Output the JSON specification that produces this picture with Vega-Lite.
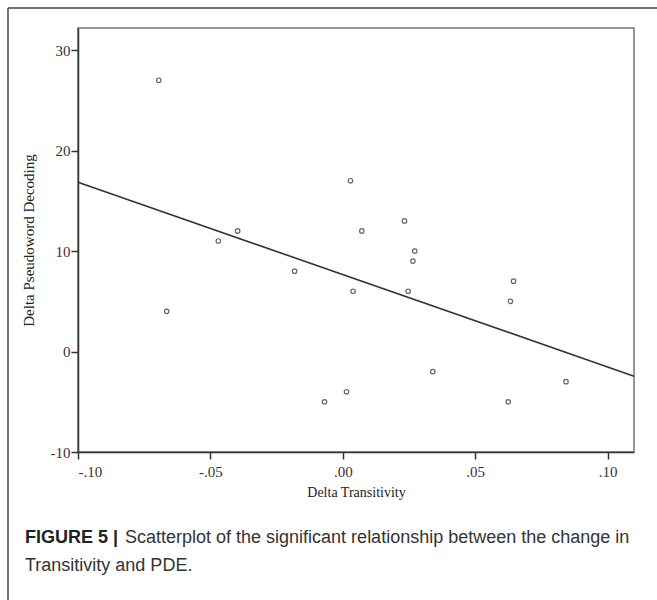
{
  "$schema": "https://vega.github.io/schema/vega-lite/v6.json",
  "width": 556,
  "height": 424,
  "autosize": {"type": "none"},
  "padding": {"left": 78, "top": 28, "right": 23, "bottom": 148},
  "background": "white",
  "config": {
    "view": {"stroke": "#777", "strokeWidth": 1.5},
    "font": "Liberation Serif"
  },
  "datasets": {
    "points": [
      {"dx": -0.0695, "dy": 27},
      {"dx": -0.0665, "dy": 4},
      {"dx": -0.047, "dy": 11},
      {"dx": -0.0397, "dy": 12},
      {"dx": -0.0182, "dy": 8},
      {"dx": -0.0069, "dy": -5},
      {"dx": 0.0014, "dy": -4},
      {"dx": 0.0029, "dy": 17},
      {"dx": 0.0039, "dy": 6},
      {"dx": 0.0072, "dy": 12},
      {"dx": 0.0233, "dy": 13},
      {"dx": 0.0272, "dy": 10},
      {"dx": 0.0265, "dy": 9},
      {"dx": 0.0247, "dy": 6},
      {"dx": 0.034, "dy": -2},
      {"dx": 0.0645, "dy": 7},
      {"dx": 0.0633, "dy": 5},
      {"dx": 0.0625, "dy": -5},
      {"dx": 0.0843, "dy": -3}
    ],
    "fit": [
      {"dx": -0.1, "dy": 16.85},
      {"dx": 0.11, "dy": -2.45}
    ]
  },
  "layer": [
    {
      "data": {"name": "points"},
      "mark": {"type": "point", "shape": "circle", "filled": false, "stroke": "#666", "strokeWidth": 1.2, "size": 20, "opacity": 1},
      "encoding": {
        "x": {
          "field": "dx", "type": "quantitative", "title": "Delta Transitivity",
          "scale": {"domain": [-0.1, 0.11], "nice": false, "zero": false},
          "axis": {
            "values": [-0.1, -0.05, 0, 0.05, 0.1],
            "labelExpr": "replace(replace(format(datum.value,'.2f'),'\u2212','-'),'0.','.')",
            "grid": false, "domainColor": "#333", "domainWidth": 1.5,
            "tickColor": "#333", "tickSize": 7, "tickWidth": 1.5,
            "labelFont": "Liberation Serif", "labelFontSize": 15, "labelColor": "#333", "labelPadding": 5,
            "titleFont": "Liberation Serif", "titleFontSize": 14, "titleFontWeight": "normal", "titleColor": "#222", "titlePadding": 6
          }
        },
        "y": {
          "field": "dy", "type": "quantitative", "title": "Delta Pseudoword Decoding",
          "scale": {"domain": [-10, 32.2], "nice": false, "zero": false},
          "axis": {
            "values": [-10, 0, 10, 20, 30],
            "labelExpr": "toString(datum.value)",
            "grid": false, "domainColor": "#333", "domainWidth": 1.5,
            "tickColor": "#333", "tickSize": 7, "tickWidth": 1.5,
            "labelFont": "Liberation Serif", "labelFontSize": 15, "labelColor": "#333", "labelPadding": 1,
            "titleFont": "Liberation Serif", "titleFontSize": 15, "titleFontWeight": "normal", "titleColor": "#222", "titlePadding": 14
          }
        }
      }
    },
    {
      "data": {"name": "fit"},
      "mark": {"type": "line", "color": "#333", "strokeWidth": 1.6},
      "encoding": {
        "x": {"field": "dx", "type": "quantitative", "title": "Delta Transitivity"},
        "y": {"field": "dy", "type": "quantitative", "title": "Delta Pseudoword Decoding"}
      }
    },
    {
      "data": {"values": [{}]},
      "mark": {"type": "rule", "color": "#444", "strokeWidth": 1.5},
      "encoding": {
        "x": {"datum": -0.12644, "type": "quantitative"},
        "y": {"datum": 34.19, "type": "quantitative"},
        "y2": {"datum": -60}
      }
    },
    {
      "data": {"values": [{}]},
      "mark": {"type": "rule", "color": "#444", "strokeWidth": 1.5},
      "encoding": {
        "y": {"datum": 34.19, "type": "quantitative"},
        "x": {"datum": -0.12644, "type": "quantitative"},
        "x2": {"datum": 0.2}
      }
    },
    {
      "data": {"values": [{}]},
      "mark": {"type": "text", "text": "FIGURE 5 |", "font": "Liberation Sans", "fontSize": 18, "fontWeight": "bold", "color": "#222", "align": "left", "baseline": "middle"},
      "encoding": {
        "x": {"datum": -0.12002, "type": "quantitative"},
        "y": {"datum": -18.56, "type": "quantitative"}
      }
    },
    {
      "data": {"values": [{}]},
      "mark": {"type": "text", "text": "Scatterplot of the significant relationship between the change in", "font": "Liberation Sans", "fontSize": 18, "color": "#333", "align": "left", "baseline": "middle"},
      "encoding": {
        "x": {"datum": -0.08225, "type": "quantitative"},
        "y": {"datum": -18.56, "type": "quantitative"}
      }
    },
    {
      "data": {"values": [{}]},
      "mark": {"type": "text", "text": "Transitivity and PDE.", "font": "Liberation Sans", "fontSize": 18, "color": "#333", "align": "left", "baseline": "middle"},
      "encoding": {
        "x": {"datum": -0.12002, "type": "quantitative"},
        "y": {"datum": -21.35, "type": "quantitative"}
      }
    }
  ]
}
